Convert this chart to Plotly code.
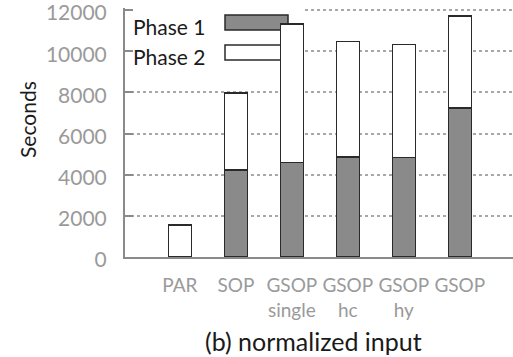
import plotly.graph_objects as go

categories = ["PAR", "SOP", "GSOP<br>single", "GSOP<br>hc", "GSOP<br>hy", "GSOP"]
phase1 = [None, 4220, 4600, 4850, 4830, 7250]
phase2_total = [1560, 7980, 11330, 10470, 10320, 11700]
phase2 = [t - (p or 0) for t, p in zip(phase2_total, phase1)]
ytick_vals = [0, 2000, 4000, 6000, 8000, 10000, 12000]
ytick_text = ["0", "2000", "4000", "6000", "8000", "10000", "12000"]

W, H = 513, 357
L, R, T, B = 125, 0, 8, 100
XR = [-0.98, 5.95]
YR = [0, 12100]

def px2x(px):
    return XR[0] + (px - L) / (W - L - R) * (XR[1] - XR[0])

def px2y(py):
    return YR[1] - (py - T) / (H - T - B) * (YR[1] - YR[0])

def paper_x(px):
    return (px - L) / (W - L - R)

def paper_y(py):
    return ((H - py) - B) / (H - T - B)

FONT = "Lato"
DARK = "#8a8a8a"
EDGE = "#2a2a2a"
GRAY = "#9a9a9a"

fig = go.Figure()
fig.add_trace(go.Bar(x=categories, y=phase1, name="Phase 1", width=0.41,
                     marker=dict(color=DARK, line=dict(color=EDGE, width=1.5))))
fig.add_trace(go.Bar(x=categories, y=phase2, name="Phase 2", width=0.41,
                     marker=dict(color="white", line=dict(color=EDGE, width=1.5))))

# legend background box & swatches
fig.add_shape(type="rect", xref="x", yref="y", x0=XR[0], x1=px2x(302), y0=px2y(66), y1=px2y(0),
              fillcolor="white", line=dict(width=0), layer="between")
fig.add_shape(type="rect", xref="x", yref="y", x0=px2x(225), x1=px2x(288), y0=px2y(30), y1=px2y(15),
              fillcolor=DARK, line=dict(color=EDGE, width=1.5), layer="between")
fig.add_shape(type="rect", xref="x", yref="y", x0=px2x(225), x1=px2x(288), y0=px2y(60), y1=px2y(45),
              fillcolor="white", line=dict(color=EDGE, width=1.5), layer="between")
fig.add_annotation(x=px2x(131), y=px2y(26), xref="x", yref="y", text="Phase 1", showarrow=False,
                   xanchor="left", yanchor="middle", font=dict(family=FONT, size=21, color="#1a1a1a"))
fig.add_annotation(x=px2x(131), y=px2y(56), xref="x", yref="y", text="Phase 2", showarrow=False,
                   xanchor="left", yanchor="middle", font=dict(family=FONT, size=21, color="#1a1a1a"))

# y title
fig.add_annotation(x=paper_x(27), y=paper_y(120), xref="paper", yref="paper", text="Seconds",
                   xanchor="center", yanchor="middle",
                   showarrow=False, textangle=-90, font=dict(family=FONT, size=21, color="#1a1a1a"))
# x title
fig.add_annotation(x=paper_x(313), y=paper_y(341), xref="paper", yref="paper", text="(b) normalized input",
                   xanchor="center", yanchor="middle",
                   showarrow=False, font=dict(family=FONT, size=25, color="#1a1a1a"))

fig.update_layout(
    width=W, height=H, margin=dict(l=L, r=R, t=T, b=B, autoexpand=False),
    barmode="stack", showlegend=False,
    plot_bgcolor="white", paper_bgcolor="white",
    font=dict(family=FONT),
)
fig.update_xaxes(range=XR, showline=True, linecolor="#8a8a8a", linewidth=2, ticks="",
                 showgrid=False, tickfont=dict(family=FONT, size=19, color=GRAY),
                 ticklabelstandoff=10, automargin=False)
fig.update_yaxes(range=YR, tickmode="array", tickvals=ytick_vals, ticktext=ytick_text,
                 showline=True, linecolor="#8a8a8a", linewidth=2,
                 ticks="inside", ticklen=8, tickwidth=2, tickcolor="#8a8a8a",
                 showgrid=True, gridcolor="#a8a8a8", griddash="dot", gridwidth=1.5,
                 zeroline=False, tickfont=dict(family=FONT, size=21, color=GRAY),
                 ticklabelstandoff=12, ticklabelshift=3, automargin=False, ticklabeloverflow="allow")
fig.write_html("out.html", config={"displayModeBar": False},
               post_script="document.body.style.margin='0';document.body.style.padding='0';")
